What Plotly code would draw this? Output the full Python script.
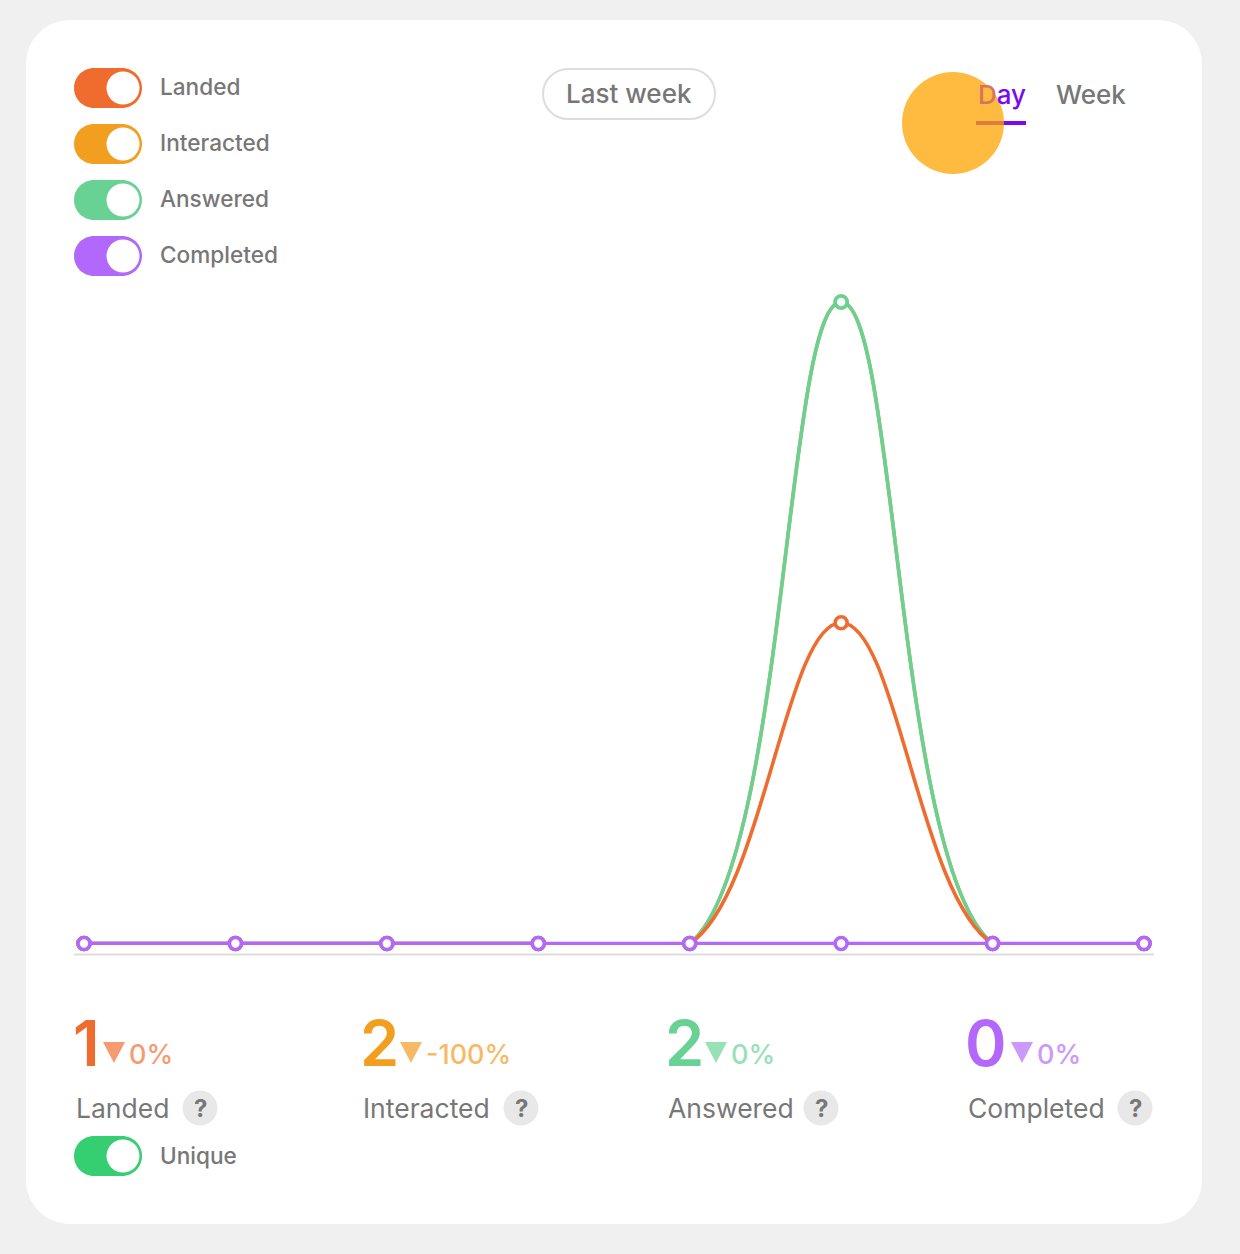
import plotly.graph_objects as go

# ---------------- data ----------------
days = ["Day 1", "Day 2", "Day 3", "Day 4", "Day 5", "Day 6", "Day 7", "Day 8"]
landed = [0, 0, 0, 0, 0, 1, 0, 0]
interacted = [0, 0, 0, 0, 0, 2, 0, 0]
answered = [0, 0, 0, 0, 0, 2, 0, 0]
completed = [0, 0, 0, 0, 0, 0, 0, 0]

series_names = ["Landed", "Interacted", "Answered", "Completed"]
series_colors = ["#EF6C2E", "#F29E1E", "#68D194", "#B168FB"]
pct_colors = ["#F59B72", "#F6BA66", "#98E1B6", "#CB98FC"]
totals = [1, 2, 2, 0]
changes = ["0%", "-100%", "0%", "0%"]

# ---------------- geometry helpers (pixel -> paper) ----------------
W_FIG, H_FIG = 1240, 1254
L, R, T, B = 74, 1154, 270, 945
PW, PH = R - L, B - T


def px(x):
    return (x - L) / PW


def py(y):
    return (B - y) / PH


def rrect(x0, y0, x1, y1, r):
    k = 0.5523 * r
    pts = [
        ("M", [(x0 + r, y0)]),
        ("L", [(x1 - r, y0)]),
        ("C", [(x1 - r + k, y0), (x1, y0 + r - k), (x1, y0 + r)]),
        ("L", [(x1, y1 - r)]),
        ("C", [(x1, y1 - r + k), (x1 - r + k, y1), (x1 - r, y1)]),
        ("L", [(x0 + r, y1)]),
        ("C", [(x0 + r - k, y1), (x0, y1 - r + k), (x0, y1 - r)]),
        ("L", [(x0, y0 + r)]),
        ("C", [(x0, y0 + r - k), (x0 + r - k, y0), (x0 + r, y0)]),
    ]
    s = ""
    for cmd, ps in pts:
        s += cmd + " " + " ".join(f"{px(a):.5f},{py(b):.5f}" for a, b in ps) + " "
    return s + "Z"


def circle(cx, cy, r, fill, opacity=1.0, line_color=None, line_width=0):
    return dict(type="circle", xref="paper", yref="paper",
                x0=px(cx - r), x1=px(cx + r), y0=py(cy + r), y1=py(cy - r),
                fillcolor=fill, opacity=opacity,
                line=dict(color=line_color or fill, width=line_width), layer="above")


def ann(text, x, y, size, color, weight=400, xanchor="left", yanchor="middle"):
    return dict(text=text, x=px(x), y=py(y), xref="paper", yref="paper",
                xanchor=xanchor, yanchor=yanchor, showarrow=False,
                font=dict(family="Inter, Lato, sans-serif", size=size, color=color, weight=weight))


FONT_GRAY = "#777777"

fig = go.Figure()

# traces (draw order: interacted under answered, completed on top)
order = [(1, interacted), (2, answered), (0, landed), (3, completed)]
for idx, vals in order:
    c = series_colors[idx]
    fig.add_trace(go.Scatter(
        x=days, y=vals, name=series_names[idx], mode="lines+markers",
        line=dict(color=c, width=3.6, shape="spline", smoothing=1.1),
        marker=dict(size=12, color="white", line=dict(color=c, width=3.6)),
        cliponaxis=False, hoverinfo="skip", showlegend=False))

shapes = []
annotations = []

# white card
shapes.append(dict(type="path", xref="paper", yref="paper", path=rrect(26, 20, 1202, 1224, 44),
                   fillcolor="white", line=dict(width=0), layer="below"))
# baseline axis line
shapes.append(dict(type="line", xref="paper", yref="paper", x0=px(74), x1=px(1154),
                   y0=py(954.5), y1=py(954.5), line=dict(color="#DDDDDD", width=2), layer="below"))

# legend toggles
row_y = [88, 144, 200, 256]
for i, name in enumerate(series_names):
    cy = row_y[i]
    shapes.append(dict(type="path", xref="paper", yref="paper",
                       path=rrect(74, cy - 20, 142, cy + 20, 20),
                       fillcolor=series_colors[i], line=dict(width=0), layer="above"))
    shapes.append(circle(123, cy, 16.5, "white"))
    annotations.append(ann(name, 158, cy - 1.5, 22.6, FONT_GRAY, 500))

# Last week button
shapes.append(dict(type="path", xref="paper", yref="paper", path=rrect(543, 69, 715, 119, 25),
                   fillcolor="white", line=dict(color="#DDDDDD", width=2), layer="above"))
annotations.append(ann("Last week", 629, 93, 26, FONT_GRAY, 500, xanchor="center"))

# Day / Week tabs
annotations.append(ann('<span style="color:#D9735C">D</span>ay', 976, 95, 26, "#7B0AF2", 500))
annotations.append(ann("Week", 1054, 95, 26, FONT_GRAY, 500))
shapes.append(dict(type="line", xref="paper", yref="paper", x0=px(976), x1=px(1026),
                   y0=py(123), y1=py(123), line=dict(color="#7B0AF2", width=4), layer="above"))
shapes.append(circle(953, 123, 51, "rgb(255,164,0)", opacity=0.75))

# bottom stats
col_x = [74, 361, 666, 966]
label_w = [126, 160, 155, 169]
for i in range(4):
    x0 = col_x[i]
    annotations.append(ann(str(totals[i]), x0 - 3, 1043, 63, series_colors[i], 600))
    num_w = 36 if totals[i] != 1 else 26
    if totals[i] == 0:
        num_w = 42
    tx = x0 + num_w + 3
    # down triangle
    tri = (f"M {px(tx):.5f},{py(1042):.5f} L {px(tx + 22):.5f},{py(1042):.5f} "
           f"L {px(tx + 11):.5f},{py(1063):.5f} Z")
    shapes.append(dict(type="path", xref="paper", yref="paper", path=tri,
                       fillcolor=pct_colors[i], line=dict(width=0), layer="above"))
    annotations.append(ann(changes[i], tx + 24, 1054, 27, pct_colors[i], 500))
    annotations.append(ann(series_names[i], x0, 1108, 26.5, FONT_GRAY, 400))
    qx = x0 + label_w[i]
    shapes.append(circle(qx, 1108, 17.5, "#E8E8E8"))
    annotations.append(ann("?", qx, 1108, 24, FONT_GRAY, 700, xanchor="center"))

# Unique toggle
shapes.append(dict(type="path", xref="paper", yref="paper", path=rrect(74, 1136, 142, 1176, 20),
                   fillcolor="#35CE70", line=dict(width=0), layer="above"))
shapes.append(circle(123, 1156, 16.5, "white"))
annotations.append(ann("Unique", 158, 1155, 22.6, FONT_GRAY, 500))

spacing = (1144 - 84) / 7
y0px, unit = 943.5, (943.5 - 302) / 2

fig.update_layout(
    width=W_FIG, height=H_FIG, autosize=False,
    margin=dict(l=L, r=W_FIG - R, t=T, b=H_FIG - B, pad=0),
    paper_bgcolor="#F0F0F0", plot_bgcolor="rgba(0,0,0,0)",
    xaxis=dict(type="category", range=[-10 / spacing, 7 + 10 / spacing], visible=False, fixedrange=True),
    yaxis=dict(range=[(y0px - B) / unit, (y0px - T) / unit], visible=False, fixedrange=True),
    shapes=shapes, annotations=annotations, showlegend=False,
    font=dict(family="Inter, Lato, sans-serif"),
)

fig.write_html("out.html", config={"displayModeBar": False})
